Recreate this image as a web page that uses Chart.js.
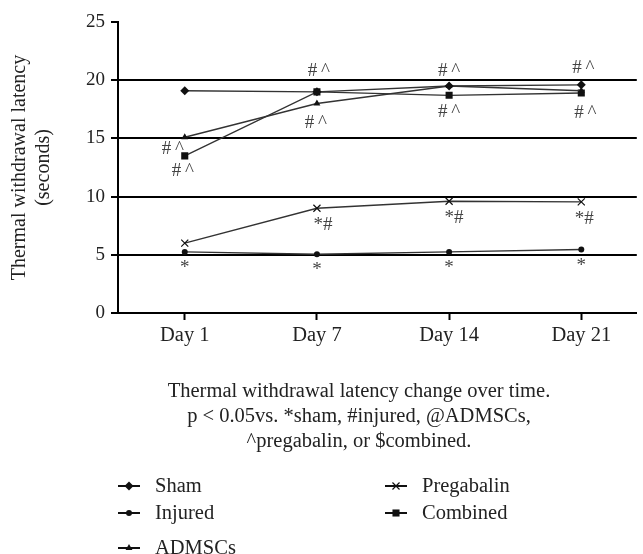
<!DOCTYPE html>
<html>
<head>
<meta charset="utf-8">
<script src="https://cdn.jsdelivr.net/npm/chart.js@4.4.1/dist/chart.umd.min.js"></script>
<style>
  html, body { margin: 0; padding: 0; background: #fff; }
</style>
</head>
<body>
<canvas id="latencyChart" width="643" height="554"></canvas>
<script>
// values (seconds)
const days = ["Day 1", "Day 7", "Day 14", "Day 21"];
const sham = [19.1, 19.0, 19.5, 19.6];
const injured = [5.25, 5.05, 5.25, 5.45];
const admscs = [15.1, 18.0, 19.5, 19.1];
const pregabalin = [6.0, 9.0, 9.6, 9.55];
const combined = [13.5, 19.0, 18.7, 18.9];

const yTicks = [0, 5, 10, 15, 20, 25];
const captionLines = [
  "Thermal withdrawal latency change over time.",
  "p < 0.05vs. *sham, #injured, @ADMSCs,",
  "^pregabalin, or $combined."
];

// significance marks: which series/day they hang off, plus offset in px
const marks = [
  { series: 2, day: 0, text: "#\u2009^", dx: -12, dy: 12 },
  { series: 4, day: 0, text: "#\u2009^", dx: -2, dy: 15 },
  { series: 4, day: 1, text: "#\u2009^", dx: 2, dy: -21 },
  { series: 2, day: 1, text: "#\u2009^", dx: -1, dy: 20 },
  { series: 2, day: 2, text: "#\u2009^", dx: 0, dy: -15 },
  { series: 4, day: 2, text: "#\u2009^", dx: 0, dy: 17 },
  { series: 0, day: 3, text: "#\u2009^", dx: 2, dy: -17 },
  { series: 4, day: 3, text: "#\u2009^", dx: 4, dy: 20 },
  { series: 3, day: 1, text: "*#", dx: 6, dy: 17 },
  { series: 3, day: 2, text: "*#", dx: 5, dy: 17 },
  { series: 3, day: 3, text: "*#", dx: 3, dy: 17 },
  { series: 1, day: 0, text: "*", dx: 0, dy: 16 },
  { series: 1, day: 1, text: "*", dx: 0, dy: 16 },
  { series: 1, day: 2, text: "*", dx: 0, dy: 16 },
  { series: 1, day: 3, text: "*", dx: 0, dy: 16 }
];

const FONT = '"Liberation Serif", "DejaVu Serif", serif';
const ink = "#222";

const toPoints = arr => arr.map((v, i) => ({ x: i, y: v }));

function series(label, values, style, radius) {
  return {
    label,
    data: toPoints(values),
    borderColor: "#333",
    borderWidth: 1.4,
    backgroundColor: "#111",
    pointBackgroundColor: "#111",
    pointBorderColor: "#111",
    pointBorderWidth: style === "crossRot" ? 1.2 : 0,
    pointStyle: style,
    pointRadius: radius,
    tension: 0
  };
}

// legend slots (two columns) - layout only
const legendSlots = [
  { x: 129, y: 486 },
  { x: 129, y: 513 },
  { x: 129, y: 548 },
  { x: 396, y: 486 },
  { x: 396, y: 513 }
];

const extras = {
  id: "extras",
  afterDraw(chart) {
    const ctx = chart.ctx;
    ctx.save();

    // significance marks
    ctx.font = "19px " + FONT;
    ctx.fillStyle = "#444";
    ctx.textAlign = "center";
    ctx.textBaseline = "middle";
    marks.forEach(m => {
      const el = chart.getDatasetMeta(m.series).data[m.day];
      ctx.fillText(m.text, el.x + m.dx, el.y + m.dy);
    });

    // caption under the plot
    ctx.font = "20.5px " + FONT;
    ctx.fillStyle = ink;
    ctx.textBaseline = "alphabetic";
    captionLines.forEach((line, i) => {
      ctx.fillText(line, 359, 397 + i * 25);
    });

    // legend
    ctx.textAlign = "left";
    ctx.textBaseline = "middle";
    chart.data.datasets.forEach((ds, i) => {
      const s = legendSlots[i];
      ctx.strokeStyle = "#111";
      ctx.lineWidth = 2;
      ctx.beginPath();
      ctx.moveTo(s.x - 11, s.y);
      ctx.lineTo(s.x + 11, s.y);
      ctx.stroke();
      ctx.fillStyle = "#111";
      ctx.lineWidth = 1.2;
      Chart.helpers.drawPoint(ctx, {
        pointStyle: ds.pointStyle,
        radius: ds.pointRadius,
        rotation: 0,
        borderWidth: ds.pointStyle === "crossRot" ? 1.2 : 0
      }, s.x, s.y);
      ctx.fillStyle = ink;
      ctx.font = "20.5px " + FONT;
      ctx.fillText(ds.label, s.x + 26, s.y + 1);
    });

    ctx.restore();
  }
};

new Chart(document.getElementById("latencyChart"), {
  type: "line",
  data: {
    datasets: [
      series("Sham", sham, "rectRot", 4.5),
      series("Injured", injured, "circle", 3),
      series("ADMSCs", admscs, "triangle", 4),
      series("Pregabalin", pregabalin, "crossRot", 5),
      series("Combined", combined, "rect", 5)
    ]
  },
  options: {
    responsive: false,
    animation: false,
    layout: { padding: { top: 22, right: 2, left: 0, bottom: 0 } },
    plugins: {
      legend: { display: false },
      tooltip: { enabled: false }
    },
    scales: {
      x: {
        type: "linear",
        min: -0.505,
        max: 3.42,
        afterBuildTicks: scale => {
          scale.ticks = days.map((_, i) => ({ value: i }));
        },
        afterFit: scale => { scale.height = 241; },
        ticks: {
          callback: v => days[v],
          color: ink,
          font: { family: FONT, size: 20.5 },
          padding: 3,
          maxRotation: 0
        },
        grid: {
          drawOnChartArea: false,
          drawTicks: true,
          tickLength: 7,
          tickColor: "#000",
          tickWidth: 2
        },
        border: { color: "#000", width: 2 }
      },
      y: {
        min: 0,
        max: 25,
        afterBuildTicks: scale => {
          scale.ticks = yTicks.map(v => ({ value: v }));
        },
        afterFit: scale => { scale.width = 118; },
        ticks: {
          color: ink,
          font: { family: FONT, size: 19 },
          padding: 6
        },
        grid: {
          color: c => (c.tick && c.tick.value === 25 ? "rgba(0,0,0,0)" : "#000"),
          lineWidth: 2,
          tickLength: 7,
          tickColor: "#000",
          tickWidth: 2
        },
        border: { color: "#000", width: 2 },
        title: {
          display: true,
          text: ["Thermal withdrawal latency", "(seconds)"],
          color: ink,
          font: { family: FONT, size: 20 },
          padding: { top: 8, bottom: 0 }
        }
      }
    }
  },
  plugins: [extras]
});
</script>
</body>
</html>
